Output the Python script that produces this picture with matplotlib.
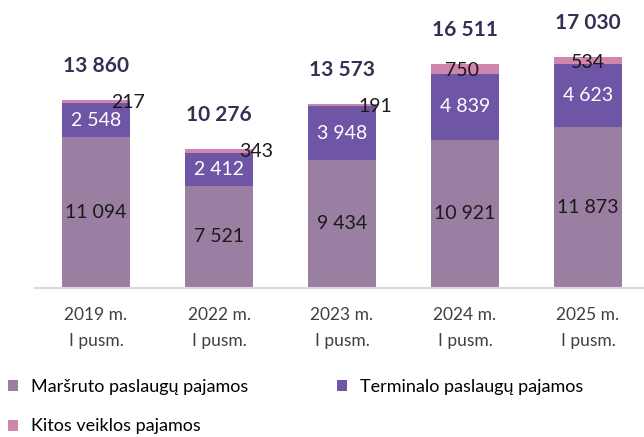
import numpy as np
import matplotlib
matplotlib.use("Agg")
import matplotlib.pyplot as plt

plt.rcParams['font.family'] = ['Lato', 'DejaVu Sans']

# data
periods = ['2019 m.\nI pusm.', '2022 m.\nI pusm.', '2023 m.\nI pusm.',
           '2024 m.\nI pusm.', '2025 m.\nI pusm.']
marsruto = [11094, 7521, 9434, 10921, 11873]
terminalo = [2548, 2412, 3948, 4839, 4623]
kitos = [217, 343, 191, 750, 534]
totals = [13860, 10276, 13573, 16511, 17030]

series_names = ['Maršruto paslaugų pajamos', 'Terminalo paslaugų pajamos',
                'Kitos veiklos pajamos']
colors = ['#9b7fa3', '#6f55a5', '#cf85ae']

def fmt(v):
    return f'{v:,}'.replace(',', ' ')

fig = plt.figure(figsize=(6.44, 4.37), dpi=100)
ax = fig.add_axes([35 / 644, 149 / 437, 609 / 644, 288 / 437])

x = np.arange(len(periods))
w = 0.555
m = np.array(marsruto)
t = np.array(terminalo)
k = np.array(kitos)

b1 = ax.bar(x, m, w, color=colors[0], label=series_names[0])
b2 = ax.bar(x, t, w, bottom=m, color=colors[1], label=series_names[1])
b3 = ax.bar(x, k, w, bottom=m + t, color=colors[2], label=series_names[2])

for i in range(len(x)):
    ax.text(x[i], m[i] / 2, fmt(marsruto[i]), ha='center', va='center',
            fontsize=14, color='#1a1a1a')
    ax.text(x[i], m[i] + t[i] / 2, fmt(terminalo[i]), ha='center', va='center',
            fontsize=14, color='white')
    ax.annotate(fmt(totals[i]), (x[i], totals[i]), xytext=(0, 24.5),
                textcoords='offset points', ha='center', va='center',
                fontsize=15, fontweight='bold', color='#3a2d55')

# small segment labels (Excel pushed the first three to the side)
k_dx = [23, 27, 24, -2, 0]
k_dy = [-2, -2, -2, -5, -4]
for i in range(len(x)):
    ax.annotate(fmt(kitos[i]), (x[i], m[i] + t[i] + k[i]),
                xytext=(k_dx[i], k_dy[i]), textcoords='offset points',
                ha='center', va='center', fontsize=14, color='#1a1a1a')

ax.set_xlim(-0.496, 4.455)
ax.set_ylim(0, 21220)
ax.set_yticks([])
ax.set_xticks(x)
ax.set_xticklabels(periods, fontsize=12.5, color='#404040', linespacing=1.75)
ax.tick_params(axis='x', length=0, pad=14)
for s in ['top', 'right', 'left']:
    ax.spines[s].set_visible(False)
ax.spines['bottom'].set_color('#d9d9d9')
ax.spines['bottom'].set_linewidth(1.5)

# legend fills column-wise, so reorder to get the Excel row layout
fig.legend(handles=[b1, b3, b2], loc='upper left', bbox_to_anchor=(0.012, 58 / 437),
           ncol=2, frameon=False, fontsize=13, handlelength=0.55, handleheight=0.55,
           handletextpad=0.75, columnspacing=4.9, labelspacing=1.3,
           borderaxespad=0, borderpad=0)

plt.savefig('out.png', dpi=100)
